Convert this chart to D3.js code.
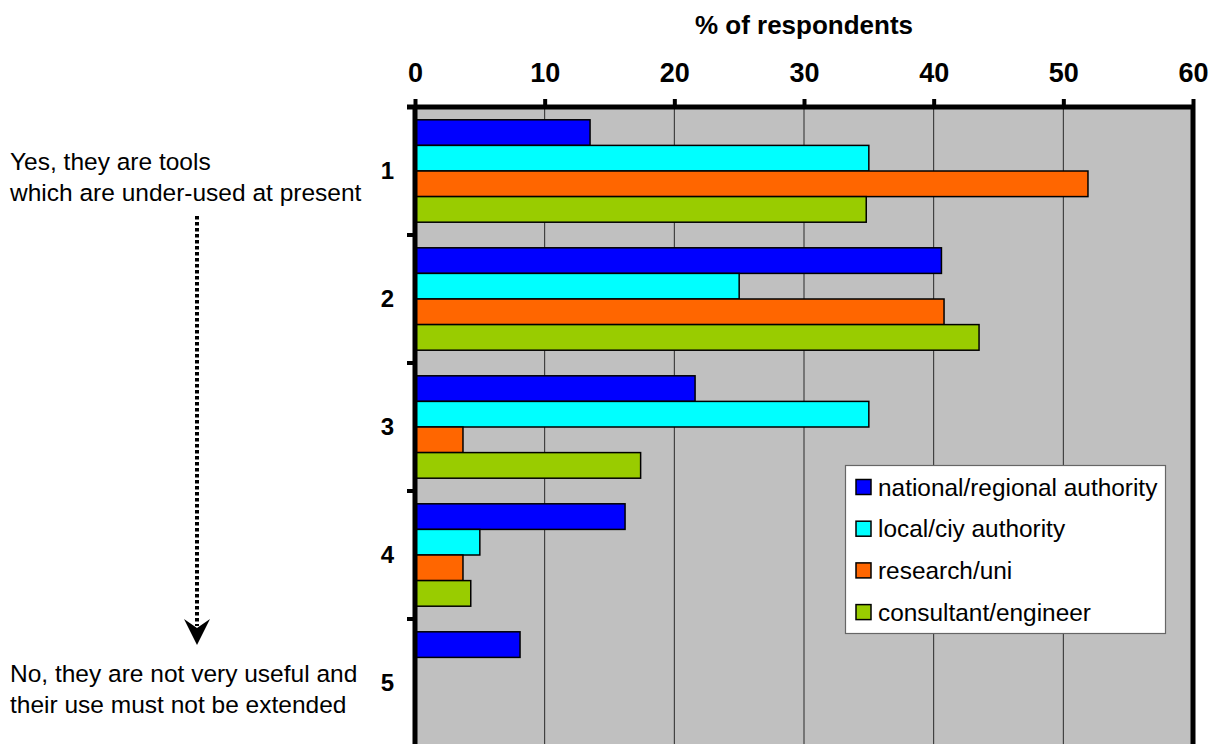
<!DOCTYPE html>
<html>
<head>
<meta charset="utf-8">
<script src="https://cdn.jsdelivr.net/npm/d3@7"></script>
<style>
  html, body { margin: 0; padding: 0; background: #fff; }
  svg { display: block; font-family: "Liberation Sans", Arial, sans-serif; }
</style>
</head>
<body>
<svg id="chart" width="1209" height="744"></svg>
<script>
// Survey answers, from "under-used" (1) to "not useful" (5)
const categories = ["1", "2", "3", "4", "5"];
const seriesNames = ["national/regional authority", "local/ciy authority", "research/uni", "consultant/engineer"];
const seriesColors = ["#0000FF", "#00FFFF", "#FF6600", "#99CC00"];

// % of respondents per answer, one array per respondent group
const nationalRegional = [13.5, 40.6, 21.6, 16.2, 8.1];
const localCity        = [35.0, 25.0, 35.0, 5.0, 0];
const researchUni      = [51.9, 40.8, 3.7, 3.7, 0];
const consultantEng    = [34.8, 43.5, 17.4, 4.3, 0];

const xTicks = [0, 10, 20, 30, 40, 50, 60];
const axisTitle = "% of respondents";
const topNote = ["Yes, they are tools", "which are under-used at present"];
const bottomNote = ["No, they are not very useful and", "their use must not be extended"];

const seriesValues = [nationalRegional, localCity, researchUni, consultantEng];

const svg = d3.select("#chart");
const plot = { left: 415, right: 1193, top: 107, bottom: 747 };

const x = d3.scaleLinear().domain([0, 60]).range([plot.left, plot.right]);
const y = d3.scaleBand().domain(categories).range([plot.top, plot.bottom]).paddingInner(0).paddingOuter(0);
const ySub = d3.scaleBand().domain(seriesNames).range([0, y.bandwidth()]).paddingInner(0).paddingOuter(0.5);

// plot background
svg.append("rect")
  .attr("x", plot.left).attr("y", plot.top)
  .attr("width", plot.right - plot.left).attr("height", plot.bottom - plot.top)
  .attr("fill", "#C0C0C0");

// vertical gridlines
svg.append("g").selectAll("line")
  .data(xTicks.slice(1, -1))
  .join("line")
  .attr("x1", d => x(d)).attr("x2", d => x(d))
  .attr("y1", plot.top).attr("y2", plot.bottom)
  .attr("stroke", "#2a2a2a").attr("stroke-width", 1);

// bars
const rows = [];
categories.forEach((c, i) => {
  seriesNames.forEach((s, j) => {
    rows.push({ cat: c, series: s, color: seriesColors[j], value: seriesValues[j][i] });
  });
});

svg.append("g").selectAll("rect")
  .data(rows.filter(d => d.value > 0))
  .join("rect")
  .attr("x", x(0))
  .attr("y", d => y(d.cat) + ySub(d.series))
  .attr("width", d => x(d.value) - x(0))
  .attr("height", ySub.bandwidth())
  .attr("fill", d => d.color)
  .attr("stroke", "#000").attr("stroke-width", 1.5);

// top value axis
const xAxis = svg.append("g")
  .attr("transform", `translate(0,${plot.top})`)
  .call(d3.axisTop(x).tickValues(xTicks).tickSize(8).tickSizeOuter(0).tickPadding(17));
xAxis.select(".domain").attr("stroke", "#000").attr("stroke-width", 5)
  .attr("d", `M${plot.left - 8},0H${plot.right}`);
xAxis.selectAll(".tick line").attr("stroke", "#000").attr("stroke-width", 4);
xAxis.selectAll(".tick text")
  .attr("font-family", "'Liberation Sans', Arial, sans-serif")
  .attr("font-size", 27).attr("font-weight", "bold").attr("fill", "#000");

// left category axis
const yAxis = svg.append("g")
  .attr("transform", `translate(${plot.left},0)`)
  .call(d3.axisLeft(y).tickSize(0).tickPadding(21));
yAxis.select(".domain").attr("stroke", "#000").attr("stroke-width", 5)
  .attr("d", `M0,${plot.top}V${plot.bottom}`);
yAxis.selectAll(".tick text")
  .attr("font-family", "'Liberation Sans', Arial, sans-serif")
  .attr("font-size", 24).attr("font-weight", "bold").attr("fill", "#000");

// category boundary ticks
const bounds = categories.map(c => y(c)).concat([y(categories[categories.length - 1]) + y.bandwidth()]);
svg.append("g").selectAll("line")
  .data(bounds)
  .join("line")
  .attr("x1", plot.left - 8).attr("x2", plot.left)
  .attr("y1", d => d).attr("y2", d => d)
  .attr("stroke", "#000").attr("stroke-width", 4);

// right frame edge
svg.append("line")
  .attr("x1", x(60)).attr("x2", x(60))
  .attr("y1", plot.top).attr("y2", plot.bottom)
  .attr("stroke", "#000").attr("stroke-width", 5);

// axis title
svg.append("text")
  .attr("x", (plot.left + plot.right) / 2).attr("y", 34)
  .attr("text-anchor", "middle")
  .attr("font-size", 26).attr("font-weight", "bold")
  .text(axisTitle);

// legend
const legend = svg.append("g");
legend.append("rect")
  .attr("x", 845.5).attr("y", 465.5).attr("width", 320).attr("height", 168)
  .attr("fill", "#fff").attr("stroke", "#666").attr("stroke-width", 1.2);
const item = legend.selectAll("g.item")
  .data(seriesNames)
  .join("g").attr("class", "item")
  .attr("transform", (d, i) => `translate(856,${487 + i * 41.7})`);
item.append("rect")
  .attr("x", 0).attr("y", -7.5).attr("width", 15).attr("height", 15)
  .attr("fill", (d, i) => seriesColors[i]).attr("stroke", "#000").attr("stroke-width", 1.5);
item.append("text")
  .attr("x", 22).attr("y", 8.5)
  .attr("font-size", 24.4)
  .text(d => d);

// side notes
const notes = svg.append("g").attr("font-size", 24.5).attr("fill", "#000");
notes.selectAll("text.top")
  .data(topNote).join("text").attr("class", "top")
  .attr("x", 10).attr("y", (d, i) => 170 + i * 30.5)
  .text(d => d);
notes.selectAll("text.bottom")
  .data(bottomNote).join("text").attr("class", "bottom")
  .attr("x", 10).attr("y", (d, i) => 682 + i * 31)
  .text(d => d);

// dotted arrow from the positive to the negative end
svg.append("line")
  .attr("x1", 197).attr("x2", 197)
  .attr("y1", 216).attr("y2", 626)
  .attr("stroke", "#000").attr("stroke-width", 4)
  .attr("stroke-dasharray", "3.5,2.5");
svg.append("path")
  .attr("d", "M197,645 L184,619 L197,628 L210,619 Z")
  .attr("fill", "#000");
</script>
</body>
</html>
